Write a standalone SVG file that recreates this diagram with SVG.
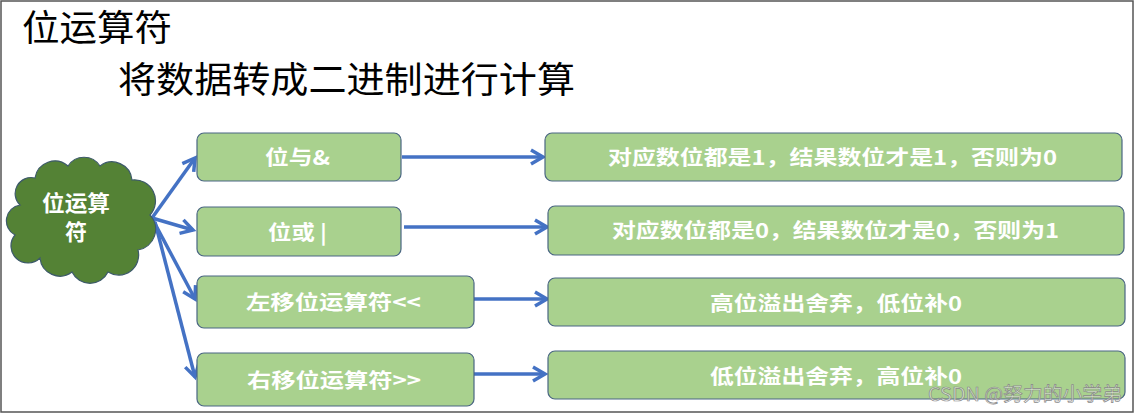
<svg xmlns="http://www.w3.org/2000/svg" width="1135" height="415" viewBox="0 0 1135 415">
<style>
.t{font-family:"Noto Sans CJK SC","Noto Sans",sans-serif;}
.title{font-size:36px;fill:#000;font-weight:normal;}
.box{fill:#A9D18E;stroke:#4a6683;stroke-width:1.2;}
.bt{font-size:20px;fill:#fff;font-weight:bold;}
.conn{stroke:#4472C4;stroke-width:3.5;fill:none;}
</style>
<defs>
<marker id="ah" markerUnits="userSpaceOnUse" markerWidth="18" markerHeight="18" refX="14" refY="9" orient="auto">
<path d="M2,2 L14,9 L2,16" fill="none" stroke="#4472C4" stroke-width="3.5" stroke-linejoin="miter"/>
</marker>
</defs>
<rect x="1" y="1" width="1132" height="411" fill="#fff" stroke="#555" stroke-width="1.5"/>
<g id="title">
<text class="t title" x="22" y="41" textLength="150" lengthAdjust="spacingAndGlyphs">位运算符</text>
<text class="t title" x="118" y="93" textLength="457" lengthAdjust="spacingAndGlyphs">将数据转成二进制进行计算</text>
</g>
<g id="connectors">
<line class="conn" x1="152" y1="218" x2="195" y2="158" marker-end="url(#ah)"/>
<line class="conn" x1="152" y1="218" x2="193" y2="230" marker-end="url(#ah)"/>
<line class="conn" x1="153" y1="220" x2="195" y2="299" marker-end="url(#ah)"/>
<line class="conn" x1="155" y1="222" x2="195" y2="377" marker-end="url(#ah)"/>
<line class="conn" x1="402" y1="157" x2="543" y2="157" marker-end="url(#ah)"/>
<line class="conn" x1="404" y1="227" x2="547" y2="227" marker-end="url(#ah)"/>
<line class="conn" x1="474" y1="299" x2="547" y2="299" marker-end="url(#ah)"/>
<line class="conn" x1="474" y1="374" x2="545" y2="374" marker-end="url(#ah)"/>
</g>
<g id="cloud">
<path d="M20,205 A16,16 0 0 1 35,178 A20,20 0 0 1 68,166 A19,19 0 0 1 100,166 A20,20 0 0 1 132,180 A21,21 0 0 1 150,215 A21,21 0 0 1 138,250 A20,20 0 0 1 108,272 A20,20 0 0 1 72,272 A20,20 0 0 1 40,258 A17,17 0 0 1 15,235 A16,16 0 0 1 20,205 Z" fill="#548235" stroke="#3d5a6a" stroke-width="1.2"/>
<text class="t bt" x="42" y="211" style="font-size:22px" textLength="68" lengthAdjust="spacingAndGlyphs">位运算</text>
<text class="t bt" x="65" y="240" style="font-size:22px" textLength="22" lengthAdjust="spacingAndGlyphs">符</text>
</g>
<g id="and">
<rect class="box" x="197" y="133" width="204" height="48" rx="7"/>
<text class="t bt" x="265" y="165" textLength="65" lengthAdjust="spacingAndGlyphs">位与&amp;</text>
</g>
<g id="or">
<rect class="box" x="197" y="207" width="204" height="49" rx="7"/>
<text class="t bt" x="268" y="240" textLength="59" lengthAdjust="spacingAndGlyphs">位或 |</text>
</g>
<g id="shl">
<rect class="box" x="197" y="276" width="277" height="52" rx="7"/>
<text class="t bt" x="246" y="310" textLength="175" lengthAdjust="spacingAndGlyphs">左移位运算符&lt;&lt;</text>
</g>
<g id="shr">
<rect class="box" x="197" y="353" width="277" height="53" rx="7"/>
<text class="t bt" x="247" y="388" textLength="174" lengthAdjust="spacingAndGlyphs">右移位运算符&gt;&gt;</text>
</g>
<g id="and-desc">
<rect class="box" x="545" y="133" width="577" height="48" rx="7"/>
<text class="t bt" x="608" y="165" textLength="449" lengthAdjust="spacingAndGlyphs">对应数位都是1，结果数位才是1，否则为0</text>
</g>
<g id="or-desc">
<rect class="box" x="548" y="206" width="576" height="49" rx="7"/>
<text class="t bt" x="612" y="238" textLength="447" lengthAdjust="spacingAndGlyphs">对应数位都是0，结果数位才是0，否则为1</text>
</g>
<g id="shl-desc">
<rect class="box" x="548" y="278" width="577" height="48" rx="7"/>
<text class="t bt" x="710" y="311" textLength="252" lengthAdjust="spacingAndGlyphs">高位溢出舍弃，低位补0</text>
</g>
<g id="shr-desc">
<rect class="box" x="548" y="351" width="577" height="48" rx="7"/>
<text class="t bt" x="710" y="384" textLength="252" lengthAdjust="spacingAndGlyphs">低位溢出舍弃，高位补0</text>
</g>
<text class="t" x="928" y="401" style="font-size:19px;fill:#ffffff;fill-opacity:0.55;stroke:#888;stroke-width:0.7" textLength="194" lengthAdjust="spacingAndGlyphs">CSDN @努力的小学弟</text>
</svg>
